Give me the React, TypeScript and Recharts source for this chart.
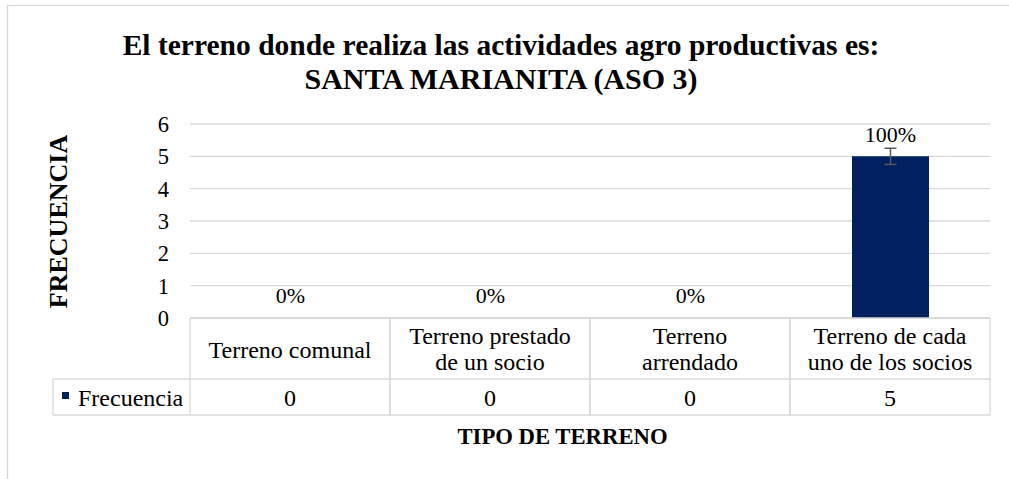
import React from "react";
import { BarChart, Bar, XAxis, YAxis, CartesianGrid, ErrorBar, LabelList, Customized, Cell } from "recharts";

const categories = ["Terreno comunal", "Terreno prestado de un socio", "Terreno arrendado", "Terreno de cada uno de los socios"];
const categoryLines = [["Terreno comunal"], ["Terreno prestado", "de un socio"], ["Terreno", "arrendado"], ["Terreno de cada", "uno de los socios"]];
const frecuencia = [0, 0, 0, 5];
const errores = [0, 0, 0, 0.25];
const porcentajes = ["0%", "0%", "0%", "100%"];
const yTicks = [0, 1, 2, 3, 4, 5, 6];
const seriesName = "Frecuencia";
const titleLines = ["El terreno donde realiza las actividades agro productivas es:", "SANTA MARIANITA (ASO 3)"];
const xTitle = "TIPO DE TERRENO";
const yTitle = "FRECUENCIA";

const data = categories.map((c, i) => ({ cat: c, value: frecuencia[i], err: errores[i], pct: porcentajes[i] }));

const W = 1009;
const H = 479;
const M = { top: 124, right: 19, bottom: 64, left: 0 };
const YW = 190;
const XH = 97;
const PLOT_LEFT = M.left + YW;
const PLOT_RIGHT = W - M.right;
const BAND = (PLOT_RIGHT - PLOT_LEFT) / categories.length;
const TABLE_TOP = H - M.bottom - XH;
const ROW2 = TABLE_TOP + 61;
const TABLE_BOTTOM = TABLE_TOP + 97;
const LEGEND_LEFT = 53;
const FONT = "'Liberation Serif', 'Times New Roman', serif";
const GRID = "#d9d9d9";
const NAVY = "#002060";
const TXT = 24;

const CategoryTick = (props: any) => {
  const { x, index } = props;
  const lines = categoryLines[index] || [String(props.payload.value)];
  const l = x - BAND / 2;
  const r = x + BAND / 2;
  const base = lines.length === 1 ? TABLE_TOP + 40 : TABLE_TOP + 26;
  return (
    <g>
      <line x1={l} y1={TABLE_TOP} x2={l} y2={TABLE_BOTTOM} stroke={GRID} strokeWidth={1.3} />
      <line x1={r} y1={TABLE_TOP} x2={r} y2={TABLE_BOTTOM} stroke={GRID} strokeWidth={1.3} />
      <line x1={l} y1={ROW2} x2={r} y2={ROW2} stroke={GRID} strokeWidth={1.3} />
      <line x1={l} y1={TABLE_BOTTOM} x2={r} y2={TABLE_BOTTOM} stroke={GRID} strokeWidth={1.3} />
      {lines.map((ln, k) => (
        <text key={k} x={x} y={base + k * 26} textAnchor="middle" fontFamily={FONT} fontSize={TXT} fill="#000">
          {ln}
        </text>
      ))}
      <text x={x} y={TABLE_BOTTOM - 9} textAnchor="middle" fontFamily={FONT} fontSize={TXT} fill="#000">
        {frecuencia[index]}
      </text>
    </g>
  );
};

const Decorations = () => (
  <g>
    <rect x={7.5} y={5.5} width={W} height={H} fill="none" stroke={GRID} strokeWidth={1.3} />
    <text x={501} y={55} textAnchor="middle" fontFamily={FONT} fontSize={29.5} fontWeight="bold" fill="#000">
      {titleLines[0]}
    </text>
    <text x={501} y={89} textAnchor="middle" fontFamily={FONT} fontSize={30} fontWeight="bold" fill="#000">
      {titleLines[1]}
    </text>
    <text x={67} y={221.5} transform="rotate(-90 67 221.5)" textAnchor="middle" fontFamily={FONT} fontSize={26} fontWeight="bold" fill="#000">
      {yTitle}
    </text>
    <text x={562.5} y={444} textAnchor="middle" fontFamily={FONT} fontSize={22.7} fontWeight="bold" fill="#000">
      {xTitle}
    </text>
    <line x1={LEGEND_LEFT} y1={ROW2} x2={PLOT_LEFT} y2={ROW2} stroke={GRID} strokeWidth={1.3} />
    <line x1={LEGEND_LEFT} y1={TABLE_BOTTOM} x2={PLOT_LEFT} y2={TABLE_BOTTOM} stroke={GRID} strokeWidth={1.3} />
    <line x1={LEGEND_LEFT} y1={ROW2} x2={LEGEND_LEFT} y2={TABLE_BOTTOM} stroke={GRID} strokeWidth={1.3} />
    <rect x={62} y={392} width={7} height={7} fill={NAVY} />
    <text x={78} y={TABLE_BOTTOM - 9} fontFamily={FONT} fontSize={TXT} fill="#000">
      {seriesName}
    </text>
  </g>
);

export default function App() {
  return (
    <div style={{ position: "absolute", left: 0, top: 0, width: W, height: H, background: "#fff" }}>
      <BarChart width={W} height={H} data={data} margin={M}>
        <CartesianGrid vertical={false} stroke={GRID} strokeWidth={1.3} />
        <YAxis
          width={YW}
          domain={[0, 6]}
          ticks={yTicks}
          axisLine={false}
          tickLine={false}
          tickSize={0}
          tickMargin={21}
          tick={{ fontFamily: FONT, fontSize: 22.5, fill: "#000" }}
        />
        <XAxis
          dataKey="cat"
          height={XH}
          axisLine={{ stroke: GRID, strokeWidth: 1.3 }}
          tickLine={false}
          tickSize={0}
          interval={0}
          tick={<CategoryTick />}
        />
        <Bar dataKey="value" fill={NAVY} barSize={77} minPointSize={1} isAnimationActive={false}>
          {data.map((d, i) => (
            <Cell key={i} fill={d.value > 0 ? NAVY : "transparent"} />
          ))}
          <ErrorBar dataKey="err" direction="y" width={6} stroke="#595959" strokeWidth={1.5} />
          <LabelList dataKey="pct" position="top" offset={14} style={{ fontFamily: FONT, fontSize: 22, fill: "#000" }} />
        </Bar>
        <Customized component={Decorations} />
      </BarChart>
    </div>
  );
}
